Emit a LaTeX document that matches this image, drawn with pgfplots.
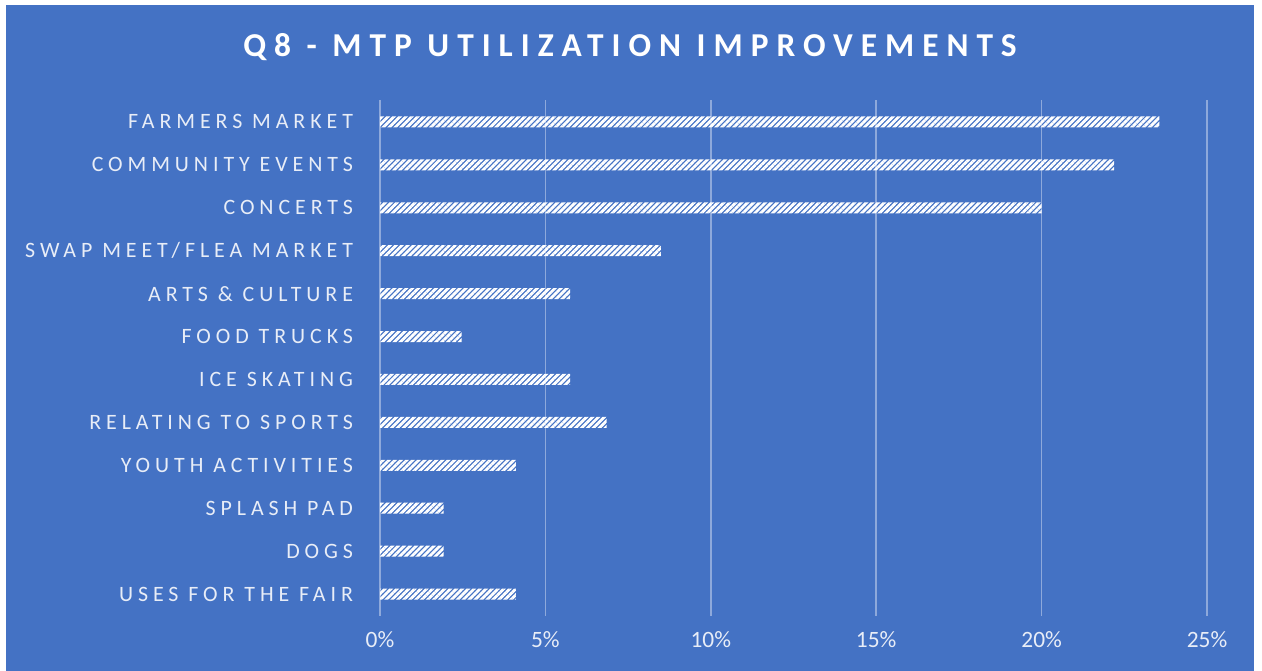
\documentclass[border=0pt]{standalone}
\usepackage{fontspec}
\setmainfont{Carlito}
\newfontfamily\labfont[LetterSpace=22.5]{Carlito}
\newfontfamily\titfont[LetterSpace=24]{Carlito}
\usepackage{pgfplots}
\pgfplotsset{compat=1.18}
\usetikzlibrary{patterns.meta}
\definecolor{bg}{HTML}{4472C4}
\definecolor{gridc}{HTML}{8EA9DB}
\definecolor{lab}{HTML}{E8EDF7}
\begin{document}
\begin{tikzpicture}[x=1bp,y=1bp]
\useasboundingbox (0,0) rectangle (1262,671);
\fill[white] (0,0) rectangle (1262,671);
\fill[bg] (6,0) rectangle (1254,666);
\node[anchor=base, text=white, font=\titfont\bfseries\fontsize{33.5}{34}\selectfont] at (630,614) {Q8 - MTP UTILIZATION IMPROVEMENTS};
\begin{axis}[
  at={(380bp,55.5bp)}, anchor=south west,
  scale only axis, width=827bp, height=515bp,
  xmin=0, xmax=25, ymin=-0.5, ymax=11.5, y dir=reverse,
  xbar, bar width=11bp,
  axis line style={draw=none},
  major tick length=0pt,
  xtick={0,5,10,15,20,25},
  xticklabel={\pgfmathprintnumber{\tick}\%},
  /pgf/number format/assume math mode=true,
  xmajorgrids, major grid style={gridc, line width=1.6bp},
  ytick={0,...,11},
  yticklabels={FARMERS MARKET, COMMUNITY EVENTS, CONCERTS, SWAP MEET/FLEA MARKET, ARTS \& CULTURE, FOOD TRUCKS, ICE SKATING, RELATING TO SPORTS, YOUTH ACTIVITIES, SPLASH PAD, DOGS, USES FOR THE FAIR},
  yticklabel style={font=\labfont\fontsize{22}{22}\selectfont, text=lab, xshift=-23.5bp},
  xticklabel style={font=\fontsize{23.5}{23.5}\selectfont, text=lab, yshift=-12.5bp},
]
\addplot[draw=none, pattern={Lines[angle=45,distance=4.2bp,line width=2.8bp]}, pattern color=white] coordinates {
(23.56,0) (22.19,1) (20.0,2) (8.49,3) (5.75,4) (2.47,5) (5.75,6) (6.85,7) (4.11,8) (1.92,9) (1.92,10) (4.11,11)
};
\end{axis}
\end{tikzpicture}
\end{document}
